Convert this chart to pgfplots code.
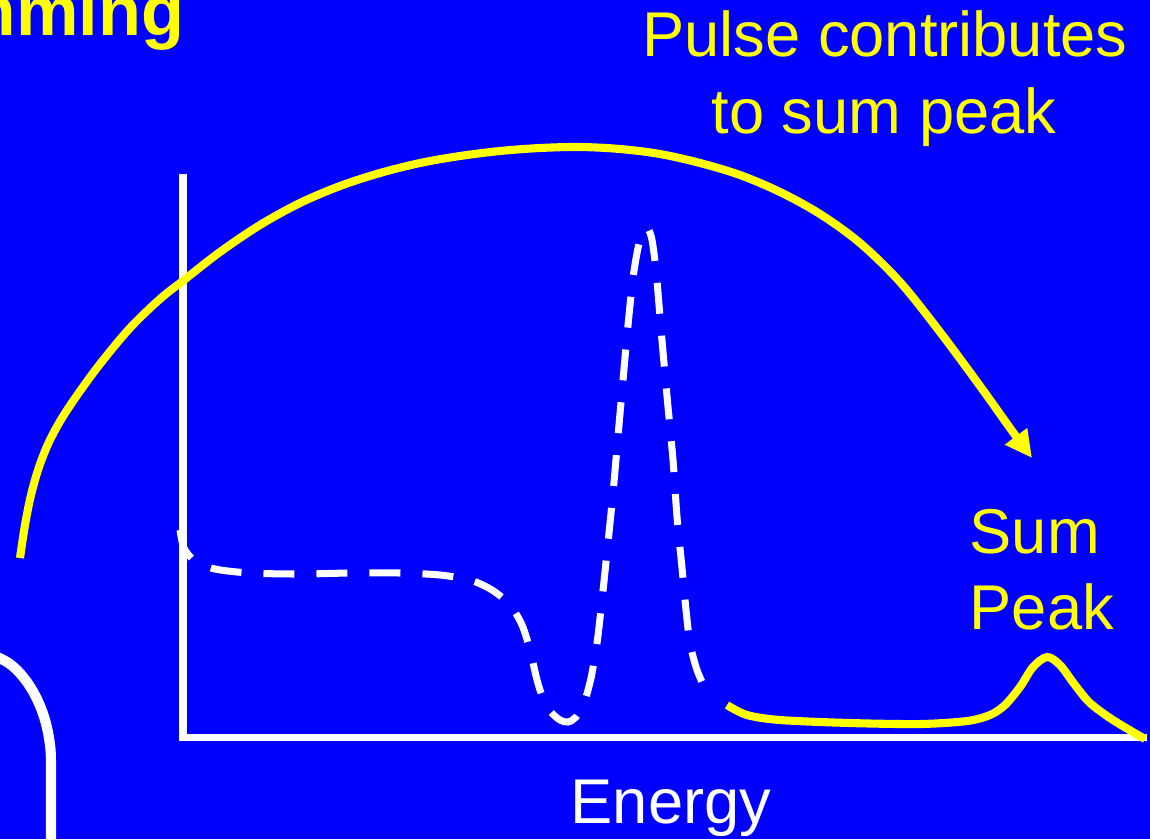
\documentclass[border=0pt]{standalone}
\usepackage{pgfplots}
\pgfplotsset{compat=1.18}
\usepackage{fontspec}
\setmainfont{Liberation Sans}
\usetikzlibrary{arrows.meta}
\definecolor{bgblue}{HTML}{0000FF}
\definecolor{ylw}{HTML}{FFFF00}
\begin{document}
\begin{tikzpicture}
\fill[bgblue] (0,0) rectangle (11.5cm,8.39cm);
\begin{axis}[
  at={(0,0)}, anchor=south west,
  scale only axis, width=11.5cm, height=8.39cm,
  xmin=0, xmax=1150, ymin=0, ymax=839, y dir=reverse,
  hide axis, clip=true,
]
% axes (white)
\addplot[white, line width=2pt, line cap=rect] coordinates {(183,178) (183,737) (1143,737)};
% white rounded line at lower left
\addplot[white, line width=2.9pt, smooth, tension=0.6] coordinates {
 (-5,656) (10,664) (24,678) (36,697) (45,720) (50,745) (51,770) (51,839)};
% dashed white spectrum
\addplot[white, line width=2pt, smooth, tension=0.5, dash pattern=on 0.31cm off 0.22cm] coordinates {
 (180,530) (184,548) (195,561) (215,569) (250,573) (300,574) (350,573) (400,573)
 (440,575) (470,580) (492,590) (510,605) (522,625) (530,650) (537,680) (543,698)
 (551,712) (560,720) (568,722) (576,717) (584,703) (591,678) (597,643) (602,600) (607,552)
 (613,493) (618,436) (623,380) (628,325) (633,278) (638,248) (643,231) (648,229)
 (652,240) (656,270) (659,305) (663,352) (668,407) (673,460) (677,517) (682,568)
 (686,610) (690,643) (697,670) (708,695)};
% yellow continuum and sum peak
\addplot[ylw, line width=2.3pt, smooth, tension=0.5] coordinates {
 (727,705) (747,715) (780,720) (850,723) (920,724) (967,721) (990,715) (1005,705)
 (1020,687) (1033,667) (1047,657) (1060,665) (1075,685) (1090,703) (1113,720) (1145,739)};
% yellow arrow
\addplot[ylw, line width=2.3pt, smooth, tension=0.55, -{Triangle[length=0.27cm,width=0.26cm]}] coordinates {
 (20,558) (25,525) (31,495) (39,467) (49,442) (62,418) (78,394) (100,364)
 (130,328) (160,299) (184,280) (220,252) (260,225) (300,203) (340,186) (380,173) (420,163)
 (460,156) (500,151) (540,148) (580,147) (620,149) (660,154) (700,163) (740,175)
 (780,192) (820,214) (860,243) (900,282) (940,332) (980,386) (1010,428) (1032,458)};
% texts
\node[anchor=base, text=ylw, font=\fontsize{18}{22}\selectfont, inner sep=0pt] at (axis cs:885,56) {Pulse contributes};
\node[anchor=base, text=ylw, font=\fontsize{18}{22}\selectfont, inner sep=0pt] at (axis cs:884,133) {to sum peak};
\node[anchor=base west, text=ylw, font=\fontsize{18}{22}\selectfont, inner sep=0pt] at (axis cs:969,553) {Sum};
\node[anchor=base west, text=ylw, font=\fontsize{18}{22}\selectfont, inner sep=0pt] at (axis cs:969,629) {Peak};
\node[anchor=base, text=white, font=\fontsize{18}{22}\selectfont, inner sep=0pt] at (axis cs:671,823) {Energy};
\node[anchor=base east, text=ylw, font=\fontsize{20}{24}\selectfont\bfseries, inner sep=0pt] at (axis cs:185,35) {Summing};
\end{axis}
\pgfresetboundingbox
\path[use as bounding box] (0,0) rectangle (11.5cm,8.39cm);
\end{tikzpicture}
\end{document}
